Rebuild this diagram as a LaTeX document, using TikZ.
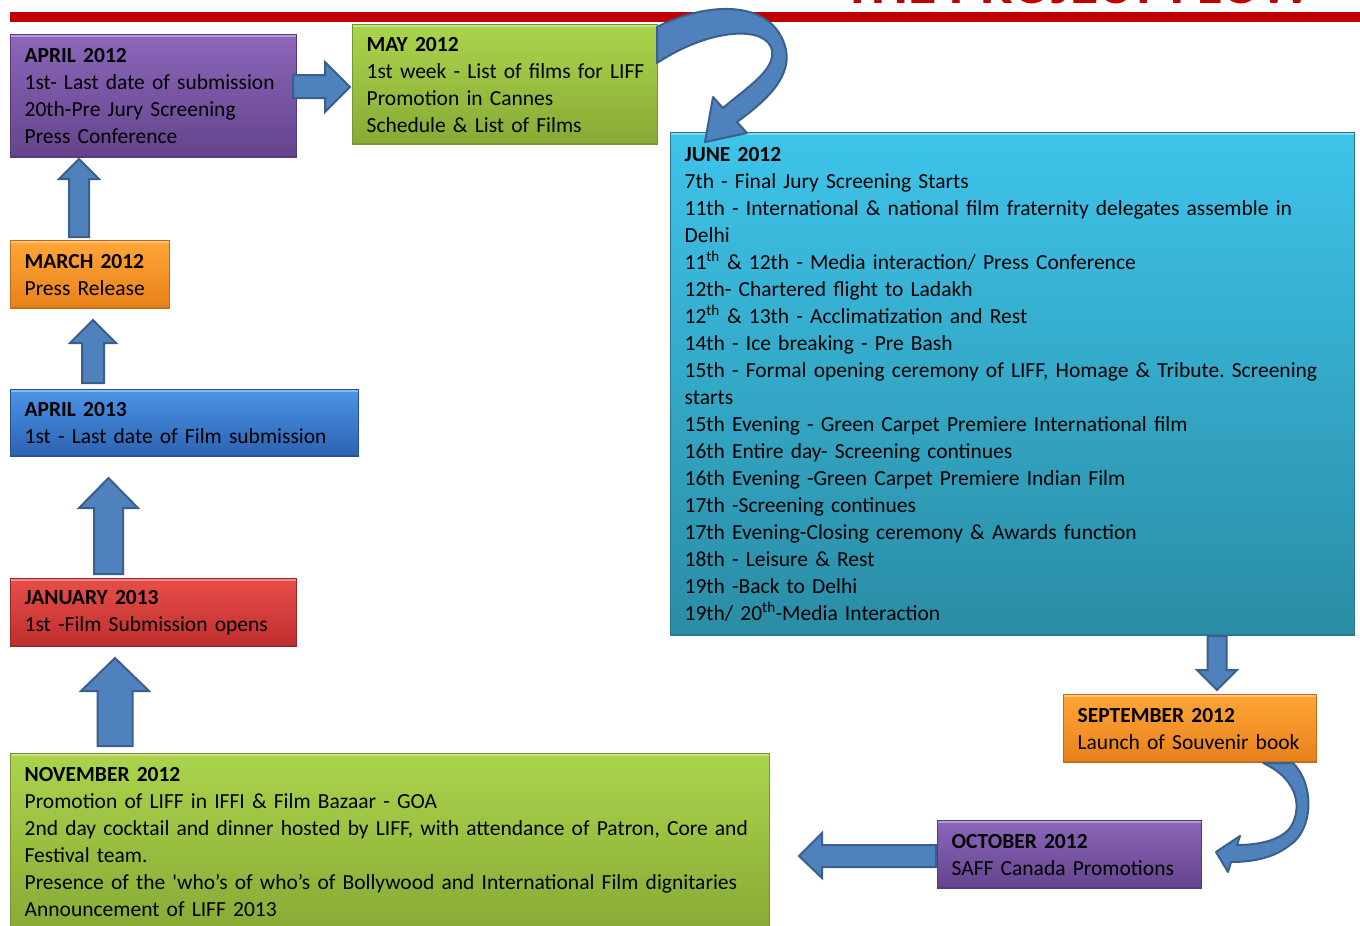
\documentclass[tikz,border=0pt]{standalone}
\usepackage{fontspec}
\setmainfont{Carlito}[Ligatures=TeXOff]
\frenchspacing
\definecolor{titlered}{HTML}{C00000}
\definecolor{purT}{HTML}{8C66BA}
\definecolor{purB}{HTML}{63448C}
\definecolor{purD}{HTML}{55397A}
\definecolor{grnT}{HTML}{ABD44C}
\definecolor{grnB}{HTML}{87AA35}
\definecolor{grnD}{HTML}{76962C}
\definecolor{cyaT}{HTML}{3EC4EA}
\definecolor{cyaB}{HTML}{2A8CA4}
\definecolor{cyaD}{HTML}{24788E}
\definecolor{ornT}{HTML}{FFA638}
\definecolor{ornB}{HTML}{E8801A}
\definecolor{ornD}{HTML}{C06A14}
\definecolor{bluT}{HTML}{4A94E8}
\definecolor{bluB}{HTML}{2D62B0}
\definecolor{bluD}{HTML}{25508F}
\definecolor{redT}{HTML}{E84E4A}
\definecolor{redB}{HTML}{BE2E2C}
\definecolor{redD}{HTML}{9A2422}
\definecolor{arrF}{HTML}{4F81BD}
\definecolor{arrD}{HTML}{3A5F8C}
\newcommand{\oneline}[1]{\mbox{#1}}
\newcommand{\blkup}[6]{% cx, ybottom, ytip, shaft half, head half, head base y
  \filldraw[blkarrow] (#1-#4,#2) -- (#1-#4,#6) -- (#1-#5,#6) -- (#1,#3) -- (#1+#5,#6) -- (#1+#4,#6) -- (#1+#4,#2) -- cycle;}
\tikzset{
  box/.style={anchor=north west, inner xsep=14pt, inner ysep=0pt, align=left,
    font=\fontsize{21.5}{27}\selectfont\frenchspacing, text=black, line width=1.3pt,
    path picture={\draw[white,opacity=.35,line width=4pt]
      (path picture bounding box.north west) -- (path picture bounding box.north east);
      \draw[black,opacity=.12,line width=4pt]
      (path picture bounding box.south west) -- (path picture bounding box.south east);}},
  purplebox/.style={box, top color=purT, bottom color=purB, draw=purD},
  greenbox/.style={box, top color=grnT, bottom color=grnB, draw=grnD},
  cyanbox/.style={box, top color=cyaT, bottom color=cyaB, draw=cyaD},
  orangebox/.style={box, top color=ornT, bottom color=ornB, draw=ornD},
  bluebox/.style={box, top color=bluT, bottom color=bluB, draw=bluD},
  redbox/.style={box, top color=redT, bottom color=redB, draw=redD},
  blkarrow/.style={fill=arrF, draw=arrD, line width=2pt, line join=miter},
  curvearrow/.style={fill=arrF, draw=arrD, line width=2pt, line join=round}
}
\begin{document}
\begin{tikzpicture}[x=1pt,y=-1pt]
\useasboundingbox (0,0) rectangle (1360,926);
\clip (0,0) rectangle (1360,926);
\fill[white] (0,0) rectangle (1360,926);
% title (cut off at the top edge) and red bar
\node[anchor=base west, inner sep=0pt, text=titlered, font=\fontsize{58}{60}\selectfont\bfseries] (title) at (843,4) {THE PROJECT FLOW};
\fill[titlered] (10,12) rectangle (1360,22);

% boxes
\node[purplebox, text width=258pt, minimum height=123pt] (apr12) at (10,34)
  {\textbf{APRIL 2012}\\1st- Last date of submission\\20th-Pre Jury Screening\\Press Conference};
\node[greenbox, text width=277pt, minimum height=120pt] (may12) at (352,24)
  {\textbf{MAY 2012}\\\oneline{1st week - List of films for LIFF}\\Promotion in Cannes\\Schedule \& List of Films};
\node[cyanbox, text width=656pt, minimum height=503pt] (jun12) at (670,132)
  {\textbf{JUNE 2012}\\
   7th - Final Jury Screening Starts\\
   11th - International \& national film fraternity delegates assemble in\\
   Delhi\\
   11\textsuperscript{th} \& 12th - Media interaction/ Press Conference\\
   12th- Chartered flight to Ladakh\\
   12\textsuperscript{th} \& 13th - Acclimatization and Rest\\
   14th - Ice breaking - Pre Bash\\
   \oneline{15th - Formal opening ceremony of LIFF, Homage \& Tribute. Screening}\\
   starts\\
   15th Evening - Green Carpet Premiere International film\\
   16th Entire day- Screening continues\\
   16th Evening -Green Carpet Premiere Indian Film\\
   17th -Screening continues\\
   17th Evening-Closing ceremony \& Awards function\\
   18th - Leisure \& Rest\\
   19th -Back to Delhi\\
   19th/ 20\textsuperscript{th}-Media Interaction};
\node[orangebox, text width=131pt, minimum height=68pt] (mar12) at (10,240)
  {\textbf{MARCH 2012}\\Press Release};
\node[bluebox, text width=320pt, minimum height=67pt] (apr13) at (10,389)
  {\textbf{APRIL 2013}\\1st - Last date of Film submission};
\node[redbox, text width=258pt, minimum height=68pt] (jan13) at (10,578)
  {\textbf{JANUARY 2013}\\1st -Film Submission opens};
\node[greenbox, text width=731pt, minimum height=177pt] (nov12) at (10,753)
  {\textbf{NOVEMBER 2012}\\
   Promotion of LIFF in IFFI \& Film Bazaar - GOA\\
   \oneline{2nd day cocktail and dinner hosted by LIFF, with attendance of Patron, Core and}\\
   Festival team.\\
   Presence of the 'who’s of who’s of Bollywood and International Film dignitaries\\
   Announcement of LIFF 2013};
\node[orangebox, text width=225pt, minimum height=68pt] (sep12) at (1063,694)
  {\textbf{SEPTEMBER 2012}\\\oneline{Launch of Souvenir book}};
\node[purplebox, text width=236pt, minimum height=68pt] (oct12) at (937,820)
  {\textbf{OCTOBER 2012}\\SAFF Canada Promotions};

% straight block arrows
\blkup{79}{237}{159}{10}{20}{179}
\blkup{93}{383}{320}{11}{23}{343}
\blkup{108.5}{574}{478}{14.5}{29.5}{508}
\blkup{115}{746}{658}{17.5}{34}{691}
% apr12 -> may12
\filldraw[blkarrow] (293,75) -- (325,75) -- (325,62) -- (350,87) -- (325,112) -- (325,98) -- (293,98) -- cycle;
% jun12 -> sep12
\filldraw[blkarrow] (1207.5,636) -- (1207.5,670) -- (1197,670) -- (1217,690) -- (1237,670) -- (1226.5,670) -- (1226.5,636) -- cycle;
% oct12 -> nov12
\filldraw[blkarrow] (936,845) -- (822,845) -- (822,833) -- (799,856) -- (822,878) -- (822,867) -- (936,867) -- cycle;

% curved arrow may12 -> jun12
\filldraw[curvearrow] (657,27) .. controls (710,0) and (775,0) .. (786,50)
  .. controls (792,80) and (760,105) .. (737,122) -- (747,133) -- (705,142) -- (713,97) -- (723,108)
  .. controls (750,85) and (775,70) .. (772,50) .. controls (766,25) and (710,28) .. (657,63) -- cycle;
% curved arrow sep12 -> oct12
\filldraw[curvearrow] (1293,763) .. controls (1315,785) and (1313,830) .. (1290,845)
  .. controls (1275,857) and (1255,862) .. (1231,862) -- (1228,872) -- (1216,852) -- (1240,836) -- (1237,845)
  .. controls (1260,845) and (1280,840) .. (1290,828) .. controls (1302,810) and (1300,780) .. (1263,763) -- cycle;
\end{tikzpicture}
\end{document}
